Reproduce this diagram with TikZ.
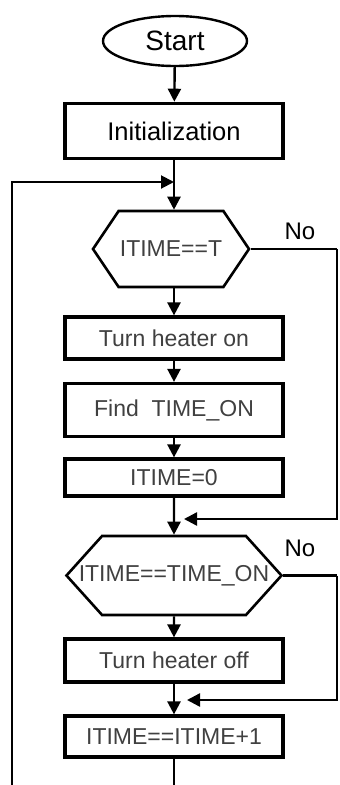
\documentclass[tikz,border=0pt]{standalone}
\usepackage{fontspec}
\setmainfont{Liberation Sans}
\usetikzlibrary{arrows.meta,shapes.geometric,shapes.symbols}
\tikzstyle{orientedarc}=[-{Triangle[length=13pt,width=13pt]},line width=2.4pt]
\tikzstyle{arc}=[line width=2.4pt]
\tikzstyle{flowtext}=[font=\fontsize{23}{27}\selectfont,text=black!75]
\tikzstyle{terminal}=[draw,ellipse,line width=2.4pt,minimum width=144pt,minimum height=50pt,inner sep=0pt,font=\fontsize{28}{32}\selectfont]
\tikzstyle{processbox}=[draw,line width=3.2pt,minimum width=218pt,inner sep=0pt,flowtext]
\tikzstyle{decision}=[draw,signal,signal to=east and west,line width=2.6pt,inner sep=0pt,flowtext]
\tikzstyle{nolabel}=[font=\fontsize{24}{28}\selectfont]

\begin{document}
\begin{tikzpicture}[x=1pt,y=1pt]
\useasboundingbox (0,0) rectangle (340,-785);

\node[terminal] (Start) at (175,-41) {Start};
\node[processbox,line width=3.6pt,minimum height=55pt,text=black,font=\fontsize{25.5}{30}\selectfont] (Init) at (174,-131) {Initialization};
\node[decision,minimum width=156pt,minimum height=76pt,signal pointer angle=112] (T1) at (171,-249) {ITIME==T};
\node[processbox,minimum height=42pt] (On) at (174,-338) {Turn heater on};
\node[processbox,minimum height=53pt] (Find) at (174,-410) {Find~ TIME\_ON};
\node[processbox,minimum height=37pt] (Zero) at (174,-477.5) {ITIME=0};
\node[decision,minimum width=215pt,minimum height=79pt,signal pointer angle=96] (T2) at (174,-575.5) {\makebox[140pt]{ITIME==TIME\_ON}};
\node[processbox,minimum height=43pt] (Off) at (174,-660.5) {Turn heater off};
\node[processbox,minimum height=41pt] (Incr) at (174,-736.5) {ITIME==ITIME+1};

\node[nolabel] (No1) at (300,-231) {No};
\node[nolabel] (No2) at (300,-548) {No};

\coordinate (LoopB) at (12,-785);
\coordinate (J1) at (174,-182);
\coordinate (R1) at (337,-249);
\coordinate (J2) at (174,-519);
\coordinate (R2) at (337,-575.5);
\coordinate (J3) at (174,-700);
\coordinate (Out) at (174,-785);

\draw[orientedarc] (Start) -- (Init);
\draw[orientedarc] (Init) -- (Init.south |- T1.north);
\draw[orientedarc,line width=2pt] (LoopB) |- (J1);

\draw[arc] (T1.east) -- (R1);
\draw[orientedarc] (R1) |- (J2) [shorten >=10pt];
\draw[orientedarc] (T1.south -| Init.south) -- (On);
\draw[orientedarc] (On) -- (Find);
\draw[orientedarc] (Find) -- (Zero);
\draw[orientedarc] (Zero) -- (T2);

\draw[arc] (T2.east) -- (R2);
\draw[orientedarc] (R2) |- (J3) [shorten >=13pt];
\draw[orientedarc] (T2) -- (Off);
\draw[orientedarc] (Off) -- (Incr);
\draw[arc] (Incr) -- (Out);

\end{tikzpicture}
\end{document}
